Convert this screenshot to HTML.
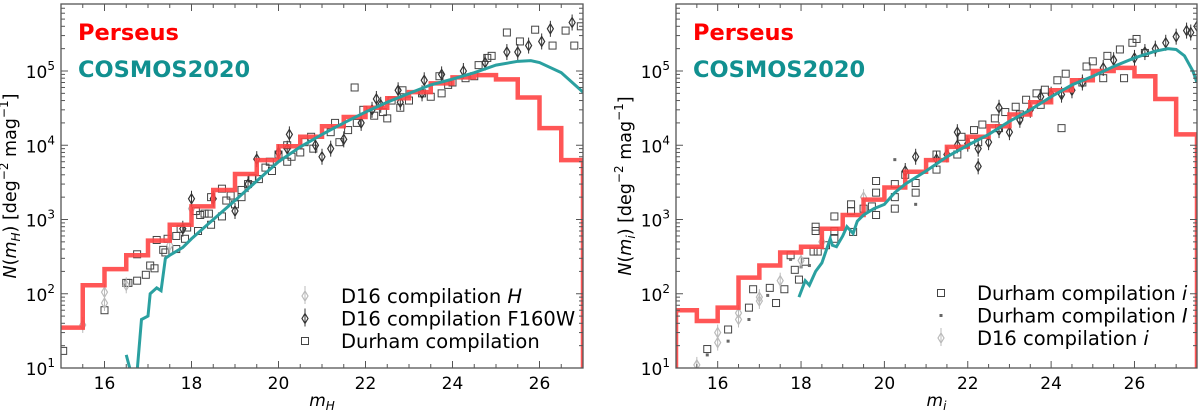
<!DOCTYPE html>
<html><head><meta charset="utf-8">
<style>
body{margin:0;background:#fff;}
svg{display:block;font-family:"DejaVu Sans","Liberation Sans",sans-serif;}
</style></head>
<body>
<svg id="fig" width="1200" height="412" viewBox="0 0 1200 412" xmlns="http://www.w3.org/2000/svg"></svg>
<script>
// ---- Left panel data (H band) ----
const leftBinEdges = [15,15.5,16,16.5,17,17.5,18,18.5,19,19.5,20,20.5,21,21.5,22,22.5,23,23.5,24,24.5,25,25.5,26,26.5,27];
const leftPerseus = [35,130,215,330,520,850,1500,2500,4100,6300,9700,13000,18000,24000,32000,43000,52000,68000,82000,88000,77000,44000,17000,6300];
const leftCosmosMag = [16.5,16.6,16.75,16.85,17.0,17.05,17.2,17.3,17.4,17.5,17.8,18.0,18.5,19,19.5,20,20.5,21,21.5,22,22.5,23,23.5,24,24.5,25,25.5,25.8,26,26.5,27];
const leftCosmosVal = [15,9,9,45,50,100,120,110,300,330,420,550,1000,1800,3300,6000,9500,14000,20000,28000,38000,50000,65000,78000,95000,120000,135000,138000,130000,95000,52000];
const leftDurhamMag = [15.05,16.0,16.5,16.55,16.75,16.75,16.95,17.05,17.15,17.2,17.35,17.4,17.45,17.65,17.65,17.75,17.85,17.9,18.1,18.15,18.2,18.3,18.4,18.45,18.45,18.7,18.7,18.8,18.9,19.0,19.15,19.15,19.3,19.4,19.55,19.7,19.8,19.85,20.0,20.2,20.2,20.3,20.5,20.6,20.75,20.8,21.2,21.3,21.4,21.6,21.75,21.8,21.95,22.2,22.4,22.5,22.6,22.8,22.85,23.0,23.3,23.5,23.7,23.75,23.9,24.0,24.3,24.5,24.6,24.8,24.9,25.25,25.55,25.9,26.3,26.6,26.8,26.95];
const leftDurhamVal = [17,60,140,140,340,150,180,240,220,530,390,360,550,600,400,750,550,780,1300,700,1150,1200,1200,2000,850,2600,1100,1800,2100,1600,2500,2000,3000,3600,3500,5000,6000,4500,7500,10000,6000,7000,8000,11000,13000,9000,15000,20000,11000,16000,60000,20000,30000,25000,28000,23000,40000,32000,55000,40000,50000,45000,85000,50000,65000,70000,80000,85000,120000,150000,160000,330000,250000,360000,220000,350000,220000,400000];
const leftF160Mag = [17.8,18.0,18.5,19.0,19.3,19.5,20.0,20.2,20.25,20.85,21.0,21.2,21.5,21.9,22.15,22.25,22.35,22.75,22.8,23.3,23.35,23.75,24.25,24.75,25.25,25.5,25.75,26.05,26.25,26.75];
const leftF160Val = [750,1900,1900,1300,3000,6500,8000,9000,14000,10000,7000,9000,12000,20000,30000,42000,35000,55000,38000,50000,75000,90000,100000,130000,180000,180000,220000,250000,370000,450000];
const leftHMag = [15.5,16.0,16.0,16.5,17.5,18.0];
const leftHVal = [38,105,75,130,450,1400];

// ---- Right panel data (i band) ----
const rightBinEdges = [15,15.5,16,16.5,17,17.5,18,18.5,19,19.5,20,20.5,21,21.5,22,22.5,23,23.5,24,24.5,25,25.5,26,26.5,27,27.5];
const rightPerseus = [60,43,65,165,240,360,430,750,1150,1850,2700,4400,6300,9500,13000,18000,26000,38000,55000,75000,100000,110000,85000,42000,14000];
const rightCosmosMag = [17.95,18.1,18.2,18.35,18.5,18.7,18.75,18.85,19.0,19.1,19.25,19.35,19.5,19.75,20,20.25,20.5,21,21.5,22,22.5,23,23.5,24,24.5,25,25.5,26,26.5,26.8,27,27.2,27.4,27.5];
const rightCosmosVal = [90,150,130,200,260,550,450,430,600,800,650,950,1150,1400,1600,2300,3000,4500,7000,10000,14000,21000,30000,45000,65000,85000,115000,150000,185000,200000,195000,160000,100000,70000];
const rightDurhamiMag = [15.75,16.25,16.75,16.85,17.25,17.4,17.6,17.75,17.85,17.95,18.1,18.3,18.35,18.35,18.4,18.6,18.8,18.8,18.8,19.2,19.2,19.25,19.5,19.7,19.8,19.8,19.8,20.25,20.25,20.25,20.5,20.75,20.75,21.25,21.25,21.75,21.85,22.15,22.25,22.35,22.65,22.75,22.9,23.15,23.25,23.4,23.65,23.75,23.85,24.15,24.25,24.35,24.75,24.85,25.0,25.25,25.35,25.65,25.75,25.95,26.05,26.25];
const rightDurhamiVal = [18,33,65,115,120,75,115,330,210,155,270,370,800,700,370,450,1100,700,550,1600,1300,680,1400,1500,3300,2300,1150,3000,2000,1400,4000,3100,2300,4700,7500,7500,13000,16000,11000,19000,23000,17000,28000,33000,26000,41000,50000,35000,56000,75000,17000,92000,70000,115000,135000,80000,160000,195000,80000,240000,270000,175000];
const rightDurhamIMag = [15.75,16.25,16.75,17.2,17.75,18.0,18.2,20.25,20.75,22.0,23.25,24.25];
const rightDurhamIVal = [15,23,45,95,290,230,240,6400,1600,12000,20000,45000];
const rightD16Mag = [15.5,16.0,16.0,16.5,16.5,17.0,17.0,17.5,18.0,18.5,19.5,20.5,20.75,21.25,21.5,21.75,21.75,22.0,22.25,22.25,22.5,22.75,22.75,23.0,23.25,23.5,23.75,24.0,24.25,24.5,24.75,25.25,25.5,26,26.25,26.5,26.75,27.0,27.25,27.35,27.5];
const rightD16Val = [11,22,30,45,55,90,80,150,280,500,2000,4500,7000,6500,7500,15000,10000,10500,5200,9000,11000,32000,16000,15000,22000,30000,45000,48000,48000,55000,70000,110000,140000,150000,180000,200000,240000,290000,350000,330000,400000];
const rightD16Dark = 11; // first N are light grey

const xTicks = [16,18,20,22,24,26];
const yTickExp = [1,2,3,4,5];

const NS='http://www.w3.org/2000/svg';
const svg=document.getElementById('fig');
function mk(tag,attrs,parent){const e=document.createElementNS(NS,tag);for(const k in attrs)e.setAttribute(k,attrs[k]);(parent||svg).appendChild(e);return e;}

function panel(cfg){
  const g=mk('g',{});
  
  
  const X0=cfg.x0,X1=cfg.x1,Y0=4,Y1=368;
  const xs=m=>X0+(m-cfg.xmin)/(cfg.xmax-cfg.xmin)*(X1-X0);
  const dec=74.25;
  const ys=v=>368-(Math.log10(v)-1)*dec;
  const clipId='clip'+cfg.name;
  const defs=mk('defs',{},g);const cp=mk('clipPath',{id:clipId},defs);mk('rect',{x:X0,y:Y0,width:X1-X0,height:Y1-Y0},cp);
  const plot=mk('g',{'clip-path':'url(#'+clipId+')'},g);
  
  
  cfg.scatter.forEach(s=>{
    const sg=mk('g',{},plot);
    
    
    s.mag.forEach((m,i)=>{
      const x=xs(m),y=ys(s.val[i]);
      const col=(s.lightN!==undefined&&i<s.lightN)?'#bbb':s.color;
      let el;
      if(s.type==='sq'){el=mk('rect',{x:x-3.5,y:y-3.5,width:7,height:7,fill:'none',stroke:col,'stroke-width':1},sg);}
      else if(s.type==='dot'){el=mk('rect',{x:x-1.5,y:y-1.5,width:3,height:3,fill:col},sg);}
      else {mk('line',{x1:x,x2:x,y1:y-8,y2:y+8,stroke:col,'stroke-width':1},sg);
        el=mk('polygon',{points:`${x},${y-5} ${x+3},${y} ${x},${y+5} ${x-3},${y}`,fill:'none',stroke:col,'stroke-width':1.2},sg);}
      
      
    });
  });
  let d='';const e=cfg.edges,p=cfg.perseus;
  if(cfg.startBottom) d+=`M${xs(e[0])},${Y1+5} L${xs(e[0])},${ys(p[0])}`; else d+=`M${xs(e[0])},${ys(p[0])}`;
  for(let i=0;i<p.length;i++){d+=` L${xs(e[i])},${ys(p[i])} L${xs(e[i+1])},${ys(p[i])}`;}
  d+=` L${xs(e[e.length-1])},${Y1+5}`;
  const st=mk('path',{d:d,fill:'none',stroke:'#ff4444','stroke-width':4.5,'stroke-opacity':0.9},plot);
  
  
  const cl=mk('polyline',{points:cfg.cMag.map((m,i)=>xs(m)+','+ys(cfg.cVal[i])).join(' '),fill:'none',stroke:'#2aa0a0','stroke-width':3},plot);
  
  
  const fr=mk('rect',{x:X0,y:Y0,width:X1-X0,height:Y1-Y0,fill:'none',stroke:'#555','stroke-width':1.3},g);
  
  
  for(let m=Math.ceil(cfg.xmin*4)/4;m<=cfg.xmax+1e-6;m+=0.5){
    const x=xs(m),major=Math.abs(m-Math.round(m/2)*2)<1e-6;
    const L=major?7:4;
    mk('line',{x1:x,x2:x,y1:Y1,y2:Y1-L,stroke:'#555'},g);
    mk('line',{x1:x,x2:x,y1:Y0,y2:Y0+L,stroke:'#555'},g);
  }
  xTicks.forEach(t=>{const tl=mk('text',{x:xs(t),y:389,'font-size':17,'text-anchor':'middle',fill:'#000'},g);tl.textContent=t;
    });
  for(let ex=1;ex<=5;ex++){for(let k=1;k<10;k++){const v=k*Math.pow(10,ex);const y=ys(v);if(y<Y0)break;
    const L=k===1?7:4;mk('line',{x1:X0,x2:X0+L,y1:y,y2:y,stroke:'#555'},g);mk('line',{x1:X1,x2:X1-L,y1:y,y2:y,stroke:'#555'},g);}}
  yTickExp.forEach(ex=>{const tl=mk('text',{x:X0-6,y:ys(Math.pow(10,ex))+7,'font-size':17,'text-anchor':'end',fill:'#000'},g);
    tl.innerHTML='10<tspan font-size="12" dy="-8">'+ex+'</tspan>';
    });
  const xt=mk('text',{x:(X0+X1)/2,y:406,'font-size':17,'text-anchor':'middle','font-style':'italic'},g);
  xt.innerHTML='m<tspan font-size="12" dy="4">'+cfg.band+'</tspan>';
  
  const yt=mk('text',{x:0,y:0,'font-size':17.5,'text-anchor':'middle',transform:`translate(${X0-45},186) rotate(-90)`},g);
  yt.innerHTML='<tspan font-style="italic">N</tspan>(<tspan font-style="italic">m</tspan><tspan font-size="12" font-style="italic" dy="4">'+cfg.band+'</tspan><tspan dy="-4">) [deg</tspan><tspan font-size="12" dy="-8">−2</tspan><tspan dy="8"> mag</tspan><tspan font-size="12" dy="-8">−1</tspan><tspan dy="8">]</tspan>';
  
  const t1=mk('text',{x:X0+17,y:40,'font-size':22.5,'font-weight':'bold',fill:'#ff0000'},g);t1.textContent='Perseus';
  
  const t2=mk('text',{x:X0+17,y:77,'font-size':22.5,'font-weight':'bold',fill:'#119090'},g);t2.textContent='COSMOS2020';
  
  const lg=mk('g',{},g);
  cfg.legend.forEach((l,i)=>{
    const y=cfg.legY+i*22.5,x=cfg.legX;
    if(l.type==='sq')mk('rect',{x:x-3.5,y:y-9.5,width:7,height:7,fill:'none',stroke:l.color},lg);
    else if(l.type==='dot')mk('rect',{x:x-1.5,y:y-7.5,width:3,height:3,fill:l.color},lg);
    else {mk('line',{x1:x,x2:x,y1:y-16,y2:y+2,stroke:l.color},lg);mk('polygon',{points:`${x},${y-11} ${x+3},${y-6} ${x},${y-1} ${x-3},${y-6}`,fill:'none',stroke:l.color,'stroke-width':1.2},lg);}
    const t=mk('text',{x:x+36,y:y+1,'font-size':19.5},lg);t.innerHTML=l.label;
    
  });
}

panel({name:'left-panel',x0:61,x1:583,xmin:15,xmax:27,band:'H',edges:leftBinEdges,perseus:leftPerseus,startBottom:false,
  cMag:leftCosmosMag,cVal:leftCosmosVal,
  scatter:[{name:'durham-compilation',type:'sq',color:'#444',mag:leftDurhamMag,val:leftDurhamVal},
           {name:'d16-h',type:'dia',color:'#bbb',mag:leftHMag,val:leftHVal},
           {name:'d16-f160w',type:'dia',color:'#333',mag:leftF160Mag,val:leftF160Val}],
  legX:305,legY:302,
  legend:[{type:'dia',color:'#bbb',label:'D16 compilation <tspan font-style="italic">H</tspan>'},
          {type:'dia',color:'#333',label:'D16 compilation F160W'},
          {type:'sq',color:'#444',label:'Durham compilation'}]});

panel({name:'right-panel',x0:676,x1:1197,xmin:15,xmax:27.5,band:'i',edges:rightBinEdges,perseus:rightPerseus,startBottom:true,
  cMag:rightCosmosMag,cVal:rightCosmosVal,
  scatter:[{name:'durham-compilation-i',type:'sq',color:'#444',mag:rightDurhamiMag,val:rightDurhamiVal},
           {name:'durham-compilation-I',type:'dot',color:'#666',mag:rightDurhamIMag,val:rightDurhamIVal},
           {name:'d16-i',type:'dia',color:'#333',lightN:rightD16Dark,mag:rightD16Mag,val:rightD16Val}],
  legX:941,legY:299,
  legend:[{type:'sq',color:'#444',label:'Durham compilation <tspan font-style="italic">i</tspan>'},
          {type:'dot',color:'#666',label:'Durham compilation <tspan font-style="italic">I</tspan>'},
          {type:'dia',color:'#bbb',label:'D16 compilation <tspan font-style="italic">i</tspan>'}]});
</script>
</body></html>
